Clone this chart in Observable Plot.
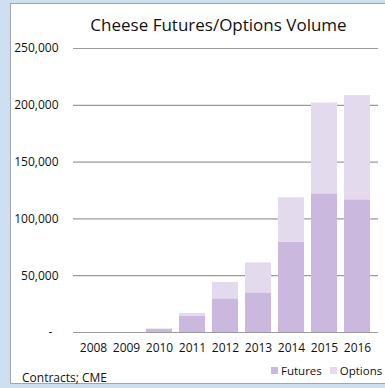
<!DOCTYPE html>
<html>
<head>
<meta charset="utf-8">
<script src="https://cdn.jsdelivr.net/npm/d3@7"></script>
<script src="https://cdn.jsdelivr.net/npm/@observablehq/plot@0.6"></script>
<style>
  html, body { margin: 0; padding: 0; overflow: hidden; }
  body { width: 385px; height: 388px; background: #cddff0; position: relative; font-family: "Open Sans", sans-serif; }
  #panel { position: absolute; left: 10px; top: 3px; width: 375px; height: 379px; background: #fff; border-left: 1px solid #a6a6a6; border-top: 1px solid #a6a6a6; border-bottom: 1px solid #a6a6a6; box-sizing: content-box; }
  #chart { position: absolute; left: 0; top: 0; width: 385px; height: 388px; }
  #title { position: absolute; left: 0; width: 437px; top: 13px; text-align: center; font-size: 17px; color: #111; white-space: nowrap; }
  #caption { position: absolute; left: 22px; top: 369px; font-size: 12px; color: #111; }
  #legend { position: absolute; left: 271px; top: 363px; font-size: 11.5px; color: #111; display: flex; align-items: center; white-space: nowrap; }
  .sw { display: inline-block; width: 7px; height: 7px; margin-right: 3px; }
  .item { display: flex; align-items: center; margin-right: 8px; }
  .item:last-child { margin-right: 0; }
</style>
</head>
<body>
<div id="panel"></div>
<div id="chart"></div>
<div id="title">Cheese Futures/Options Volume</div>
<div id="caption">Contracts; CME</div>
<div id="legend"></div>
<script>
const years = ["2008", "2009", "2010", "2011", "2012", "2013", "2014", "2015", "2016"];
const futures = [0, 0, 2900, 14400, 29600, 34900, 79600, 122100, 116800];
const options = [0, 0, 0, 2300, 14500, 26400, 39000, 79900, 91700];
const seriesNames = ["Futures", "Options"];
const seriesColors = ["#cbb8de", "#e4daee"];
const yTicks = [0, 50000, 100000, 150000, 200000, 250000];

const rows = [];
years.forEach((yr, i) => {
  rows.push({year: yr, series: "Futures", value: futures[i]});
  rows.push({year: yr, series: "Options", value: options[i]});
});

const fmt = d3.format(",");
const chart = Plot.plot({
  width: 385,
  height: 388,
  marginLeft: 73,
  marginRight: 7,
  marginTop: 48,
  marginBottom: 56,
  style: {background: "transparent", fontFamily: "'Open Sans', sans-serif", fontSize: "12px", color: "#111"},
  x: {domain: years, paddingInner: 0.2, paddingOuter: 0.135, label: null},
  y: {domain: [0, 250000], label: null},
  color: {domain: seriesNames, range: seriesColors},
  marks: [
    Plot.ruleY(yTicks, {stroke: "#9a9a9a", strokeWidth: 1.2}),
    Plot.barY(rows, {x: "year", y: "value", fill: "series", order: seriesNames}),
    Plot.axisY(yTicks, {tickSize: 0, tickPadding: 15, tickFormat: d => d === 0 ? "-\u00a0\u00a0" : fmt(d), fontSize: 12, fill: "#111"}),
    Plot.axisX({tickSize: 0, tickPadding: 11, fontSize: 12, fill: "#111"})
  ]
});
document.getElementById("chart").appendChild(chart);

const legend = document.getElementById("legend");
seriesNames.forEach((s, i) => {
  const it = document.createElement("span");
  it.className = "item";
  const sw = document.createElement("span");
  sw.className = "sw";
  sw.style.background = seriesColors[i];
  it.appendChild(sw);
  it.appendChild(document.createTextNode(s));
  legend.appendChild(it);
});
</script>
</body>
</html>
